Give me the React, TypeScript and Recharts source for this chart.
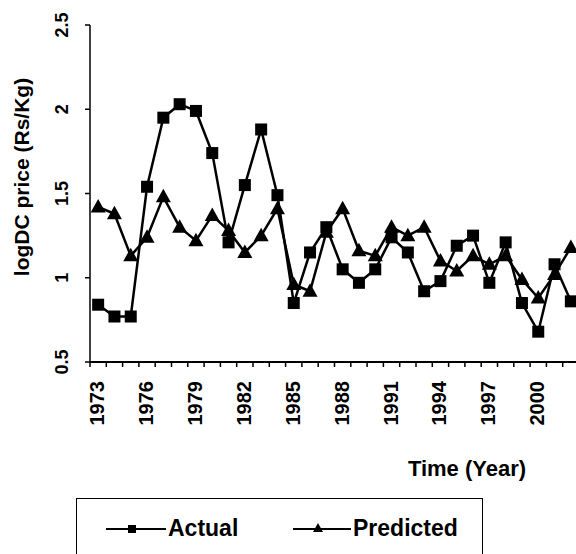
import React from 'react';
import { LineChart, Line, XAxis, YAxis, Legend, Label } from 'recharts';

const years = [
  1973, 1974, 1975, 1976, 1977, 1978, 1979, 1980, 1981, 1982,
  1983, 1984, 1985, 1986, 1987, 1988, 1989, 1990, 1991, 1992,
  1993, 1994, 1995, 1996, 1997, 1998, 1999, 2000, 2001, 2002,
];
const actual = [
  0.84, 0.77, 0.77, 1.54, 1.95, 2.03, 1.99, 1.74, 1.21, 1.55,
  1.88, 1.49, 0.85, 1.15, 1.3, 1.05, 0.97, 1.05, 1.24, 1.15,
  0.92, 0.98, 1.19, 1.25, 0.97, 1.21, 0.85, 0.68, 1.08, 0.86,
];
const predicted = [
  1.42, 1.38, 1.13, 1.24, 1.48, 1.3, 1.22, 1.37, 1.28, 1.15,
  1.25, 1.41, 0.96, 0.92, 1.27, 1.41, 1.16, 1.13, 1.3, 1.25,
  1.3, 1.1, 1.04, 1.13, 1.08, 1.13, 0.99, 0.88, 1.02, 1.18,
];
const labelYears = [1973, 1976, 1979, 1982, 1985, 1988, 1991, 1994, 1997, 2000];
const yTicks = [0.5, 1, 1.5, 2, 2.5];

const data = years.map((year, i) => ({ year, actual: actual[i], predicted: predicted[i] }));
// tick marks sit between the years, labels every third year
const xTicks = [...years.map((y) => y - 0.5), 2002.5, ...labelYears].sort((a, b) => a - b);

const FONT = '"Liberation Sans", Arial, sans-serif';

function YearTick({ x, y, payload }: any) {
  const v = payload.value;
  if (!Number.isInteger(v)) {
    return <line x1={x} y1={y} x2={x} y2={y + 5} stroke="#000" strokeWidth={1.5} />;
  }
  const tx = x + 6;
  const ty = y + 19;
  return (
    <text x={tx} y={ty} transform={`rotate(-90, ${tx}, ${ty})`} textAnchor="end"
      fontFamily={FONT} fontWeight="bold" fontSize={20} fill="#000">
      {v}
    </text>
  );
}

function PriceTick({ x, y, payload }: any) {
  const tx = x - 17;
  return (
    <text x={tx} y={y} transform={`rotate(-90, ${tx}, ${y})`} textAnchor="middle"
      fontFamily={FONT} fontWeight="bold" fontSize={18} fill="#000">
      {payload.value}
    </text>
  );
}

function SquareDot({ cx, cy }: any) {
  if (cx == null || cy == null) return null;
  return <rect x={cx - 6} y={cy - 6} width={12} height={12} fill="#000" />;
}

function TriangleDot({ cx, cy }: any) {
  if (cx == null || cy == null) return null;
  return <polygon points={`${cx},${cy - 8} ${cx - 7.5},${cy + 5.5} ${cx + 7.5},${cy + 5.5}`} fill="#000" />;
}

const legendX = [29, 216];

function LegendBox({ payload }: any) {
  const items = payload || [];
  return (
    <div style={{ border: '1.5px solid #000', width: 407, height: 70, boxSizing: 'border-box' }}>
      <svg width={404} height={60}>
        {items.map((item: any, i: number) => {
          const lx = legendX[i];
          const w = i === 0 ? 60 : 58;
          const mx = lx + w / 2 - 4;
          return (
            <g key={item.value}>
              <line x1={lx} y1={30} x2={lx + w} y2={30} stroke="#000" strokeWidth={2} />
              {i === 0 ? (
                <rect x={mx - 4} y={26} width={8} height={8} fill="#000" />
              ) : (
                <polygon points={`${mx},${24} ${mx - 5},${33} ${mx + 5},${33}`} fill="#000" />
              )}
              <text x={lx + w + 2} y={37} fontFamily={FONT} fontWeight="bold" fontSize={23} fill="#000">
                {item.value}
              </text>
            </g>
          );
        })}
      </svg>
    </div>
  );
}

export default function App() {
  return (
    <div style={{ position: 'absolute', left: 0, top: 0, width: 576, height: 554, overflow: 'hidden', background: '#fff' }}>
      <LineChart width={579} height={554} data={data} margin={{ top: 25, right: 0, bottom: 0, left: 0 }}>
        <XAxis
          dataKey="year"
          type="number"
          domain={[1972.5, 2002.5]}
          ticks={xTicks}
          interval={0}
          tick={<YearTick />}
          tickLine={false}
          tickSize={0}
          tickMargin={0}
          height={192}
          axisLine={{ stroke: '#000', strokeWidth: 2 }}
        >
          <Label
            content={() => (
              <text x={467} y={476} textAnchor="middle" fontFamily={FONT} fontWeight="bold" fontSize={22} fill="#000">
                Time (Year)
              </text>
            )}
          />
        </XAxis>
        <YAxis
          type="number"
          domain={[0.5, 2.5]}
          ticks={yTicks}
          interval={0}
          width={90}
          tick={<PriceTick />}
          tickSize={5}
          tickMargin={0}
          tickLine={{ stroke: '#000', strokeWidth: 1.5 }}
          axisLine={{ stroke: '#000', strokeWidth: 1.5 }}
        >
          <Label
            content={() => (
              <text x={29} y={177} transform="rotate(-90, 29, 177)" textAnchor="middle"
                fontFamily={FONT} fontWeight="bold" fontSize={21} fill="#000">
                logDC price (Rs/Kg)
              </text>
            )}
          />
        </YAxis>
        <Legend
          verticalAlign="middle"
          align="center"
          layout="horizontal"
          content={<LegendBox />}
          wrapperStyle={{ left: 76, top: 498, width: 407, height: 70 }}
        />
        <Line
          dataKey="actual"
          name="Actual"
          stroke="#000"
          strokeWidth={2.5}
          dot={<SquareDot />}
          isAnimationActive={false}
        />
        <Line
          dataKey="predicted"
          name="Predicted"
          stroke="#000"
          strokeWidth={2.5}
          dot={<TriangleDot />}
          isAnimationActive={false}
        />
      </LineChart>
    </div>
  );
}
